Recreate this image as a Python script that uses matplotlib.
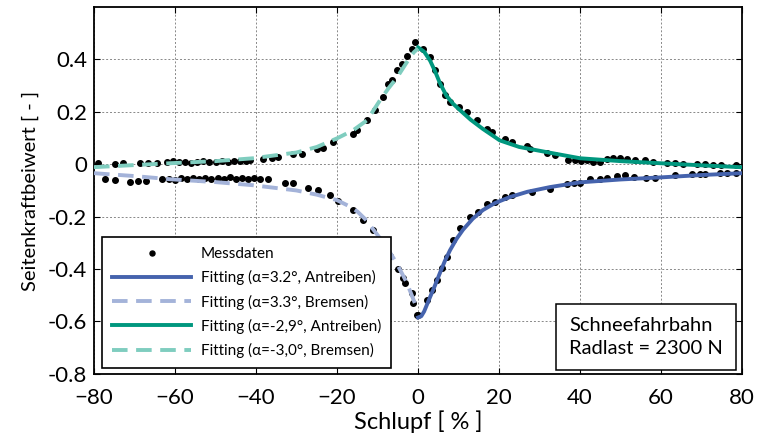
import matplotlib
matplotlib.use('Agg')
import matplotlib.pyplot as plt
from matplotlib.patches import Rectangle

plt.rcParams['font.family'] = ['Lato', 'DejaVu Sans']

# measured points, four branches
mess_x_lu = [-78.9, -74.8, -72.8, -68.6, -66.6, -64.5, -62.0, -60.5, -59.0, -57.5, -56.0, -54.5,
             -53.0, -51.5, -50.0, -48.5, -47.0, -45.5, -44.0, -42.5, -41.5, -38.2, -36.1, -34.5,
             -30.8, -28.7, -25.0, -23.4, -20.9, -16.0, -15.1, -12.7, -10.6, -8.6, -7.3, -6.5,
             -5.3, -4.0, -2.8, -1.6, -0.7]
mess_y_lu = [0.003, 0.000, 0.005, 0.005, 0.005, 0.003, 0.010, 0.012, 0.008, 0.010, 0.006, 0.009,
             0.011, 0.007, 0.010, 0.012, 0.008, 0.011, 0.014, 0.012, 0.015, 0.022, 0.025, 0.028,
             0.038, 0.041, 0.060, 0.064, 0.085, 0.117, 0.130, 0.168, 0.206, 0.256, 0.307, 0.320,
             0.358, 0.383, 0.415, 0.440, 0.466]

mess_x_ru = [1.3, 3.0, 4.2, 5.4, 6.7, 7.9, 10.0, 12.0, 14.5, 17.0, 18.2, 21.5, 23.1, 26.8, 27.6,
             31.8, 33.9, 37.1, 38.7, 40.3, 41.8, 43.3, 44.9, 46.6, 48.2, 49.8, 51.5, 53.5, 56.0,
             58.0, 61.4, 63.4, 65.5, 68.8, 70.8, 72.8, 74.9, 78.6]
mess_y_ru = [0.441, 0.409, 0.358, 0.307, 0.263, 0.237, 0.218, 0.200, 0.168, 0.136, 0.123, 0.098,
             0.085, 0.069, 0.060, 0.043, 0.036, 0.018, 0.016, 0.014, 0.016, 0.009, 0.010, 0.022,
             0.025, 0.025, 0.022, 0.018, 0.016, 0.009, 0.003, 0.003, 0.000, 0.000, 0.000, -0.002,
             -0.002, -0.002]

mess_x_ll = [-77.3, -74.8, -71.1, -69.1, -67.1, -63.3, -61.5, -60.0, -58.5, -57.0, -55.5, -54.0,
             -52.5, -51.0, -49.5, -48.0, -46.5, -45.0, -43.5, -42.0, -40.5, -39.0, -37.0, -32.8,
             -30.8, -27.1, -24.6, -21.7, -19.7, -16.0, -13.5, -11.0, -9.0, -7.0, -5.0, -3.6,
             -3.2, -1.6, -1.2, -0.3]
mess_y_ll = [-0.058, -0.061, -0.067, -0.063, -0.063, -0.058, -0.055, -0.060, -0.052, -0.057,
             -0.054, -0.058, -0.051, -0.056, -0.053, -0.057, -0.050, -0.055, -0.052, -0.056,
             -0.054, -0.058, -0.058, -0.070, -0.073, -0.089, -0.099, -0.118, -0.140, -0.175,
             -0.213, -0.249, -0.300, -0.350, -0.400, -0.435, -0.454, -0.493, -0.531, -0.575]

mess_x_rl = [0.1, 2.1, 3.4, 4.6, 5.8, 7.1, 8.7, 10.4, 12.8, 14.9, 17.0, 19.0, 21.5, 23.1, 28.1,
             32.6, 36.7, 38.4, 40.0, 42.5, 45.0, 46.6, 49.0, 51.1, 53.2, 56.4, 58.5, 63.5, 67.6,
             69.6, 70.9, 74.5, 76.2, 78.6]
mess_y_rl = [-0.575, -0.518, -0.480, -0.442, -0.397, -0.353, -0.290, -0.245, -0.200, -0.182,
             -0.150, -0.144, -0.124, -0.118, -0.105, -0.093, -0.074, -0.071, -0.070, -0.058,
             -0.055, -0.051, -0.046, -0.041, -0.048, -0.051, -0.051, -0.042, -0.036, -0.036,
             -0.036, -0.032, -0.032, -0.032]

# fitted curves
fit_x_an32 = [0.0, 0.8, 1.5, 3.0, 4.2, 5.4, 6.6, 7.9, 9.5, 11.1, 13.5, 16.0, 19.0, 22.7, 27.0,
              32.6, 40.0, 50.0, 60.0, 70.0, 80.0]
fit_y_an32 = [-0.585, -0.580, -0.562, -0.506, -0.462, -0.415, -0.370, -0.328, -0.285, -0.250,
              -0.208, -0.175, -0.148, -0.125, -0.105, -0.087, -0.069, -0.058, -0.050, -0.041,
              -0.034]

fit_x_br33 = [-80.0, -70.0, -61.2, -50.0, -40.7, -30.0, -25.0, -20.0, -17.0, -15.0, -13.0, -11.1,
              -9.0, -7.0, -5.5, -4.4, -3.0, -1.8, -0.8]
fit_y_br33 = [-0.034, -0.045, -0.057, -0.068, -0.080, -0.100, -0.116, -0.137, -0.160, -0.180,
              -0.210, -0.248, -0.290, -0.335, -0.372, -0.404, -0.445, -0.490, -0.530]

fit_x_an29 = [0.0, 1.5, 3.0, 4.2, 5.4, 7.0, 8.6, 10.4, 13.0, 16.0, 20.2, 25.0, 33.3, 40.0, 50.0,
              59.8, 70.0, 79.5]
fit_y_an29 = [0.446, 0.430, 0.395, 0.355, 0.310, 0.262, 0.232, 0.206, 0.170, 0.135, 0.091, 0.066,
              0.042, 0.023, 0.012, 0.004, -0.004, -0.011]

fit_x_br30 = [-80.0, -70.0, -61.2, -50.0, -40.7, -30.0, -25.0, -20.0, -16.0, -12.6, -9.4, -7.3,
              -5.2, -3.5, -2.0, -1.0, 0.0]
fit_y_br30 = [-0.011, -0.003, 0.004, 0.012, 0.023, 0.045, 0.066, 0.099, 0.130, 0.168, 0.244, 0.290,
              0.331, 0.372, 0.408, 0.428, 0.442]

legend_labels = ['Messdaten',
                 'Fitting (\u03b1=3.2\u00b0, Antreiben)',
                 'Fitting (\u03b1=3.3\u00b0, Bremsen)',
                 'Fitting (\u03b1=-2,9\u00b0, Antreiben)',
                 'Fitting (\u03b1=-3,0\u00b0, Bremsen)']

x_ticks = [-80, -60, -40, -20, 0, 20, 40, 60, 80]
y_ticks = [-0.8, -0.6, -0.4, -0.2, 0, 0.2, 0.4]
y_ticklabels = ['-0.8', '-0.6', '-0.4', '-0.2', '0', '0.2', '0.4']

c_blue = '#4563ad'
c_blue_l = '#a4b3d9'
c_green = '#00977e'
c_green_l = '#7fcdbf'

fig = plt.figure(figsize=(7.58, 4.44), dpi=100)
ax = fig.add_axes([0.124, 0.158, 0.855, 0.826])

dot = dict(linestyle='none', marker='o', color='black', markersize=4.0, zorder=2)
h0, = ax.plot(mess_x_lu, mess_y_lu, **dot)
ax.plot(mess_x_ru, mess_y_ru, **dot)
ax.plot(mess_x_ll, mess_y_ll, **dot)
ax.plot(mess_x_rl, mess_y_rl, **dot)

h1, = ax.plot(fit_x_an32, fit_y_an32, color=c_blue, lw=2.8, zorder=3)
h2, = ax.plot(fit_x_br33, fit_y_br33, color=c_blue_l, lw=2.8, ls=(0, (4, 2.2)), zorder=3)
h3, = ax.plot(fit_x_an29, fit_y_an29, color=c_green, lw=2.8, zorder=3)
h4, = ax.plot(fit_x_br30, fit_y_br30, color=c_green_l, lw=2.8, ls=(0, (4, 2.2)), zorder=3)

ax.set_xlim(-80, 80)
ax.set_ylim(-0.8, 0.6)
ax.set_xticks(x_ticks)
ax.set_yticks(y_ticks)
ax.set_yticklabels(y_ticklabels)
ax.tick_params(direction='in', top=True, right=True, labelsize=16, length=4)
ax.tick_params(axis='x', pad=10)
ax.tick_params(axis='y', pad=5)
ax.grid(True, color='#888888', ls=(0, (2, 2)), lw=0.7)
for s in ax.spines.values():
    s.set_linewidth(1.3)

ax.set_xlabel('Schlupf [ % ]', fontsize=17, labelpad=2)
ax.set_ylabel('Seitenkraftbeiwert [ - ]', fontsize=14.5, labelpad=6)

leg = ax.legend([h0, h1, h2, h3, h4], legend_labels, loc='lower left',
                bbox_to_anchor=(0.0123, 0.016), borderaxespad=0, fontsize=11,
                handlelength=5.2, markerscale=0.9, fancybox=False, framealpha=1,
                edgecolor='black', borderpad=0.65, labelspacing=0.6, handletextpad=0.6)
leg.get_frame().set_linewidth(1.2)
leg.set_zorder(5)

# annotation box lower right
ax.add_patch(Rectangle((0.713, 0.011), 0.278, 0.18, transform=ax.transAxes,
                       fc='white', ec='black', lw=1.1, zorder=6))
ax.text(0.733, 0.101, 'Schneefahrbahn\nRadlast = 2300 N', transform=ax.transAxes,
        ha='left', va='center', fontsize=14.5, linespacing=1.4, zorder=7)

fig.savefig('out.png', dpi=100)
